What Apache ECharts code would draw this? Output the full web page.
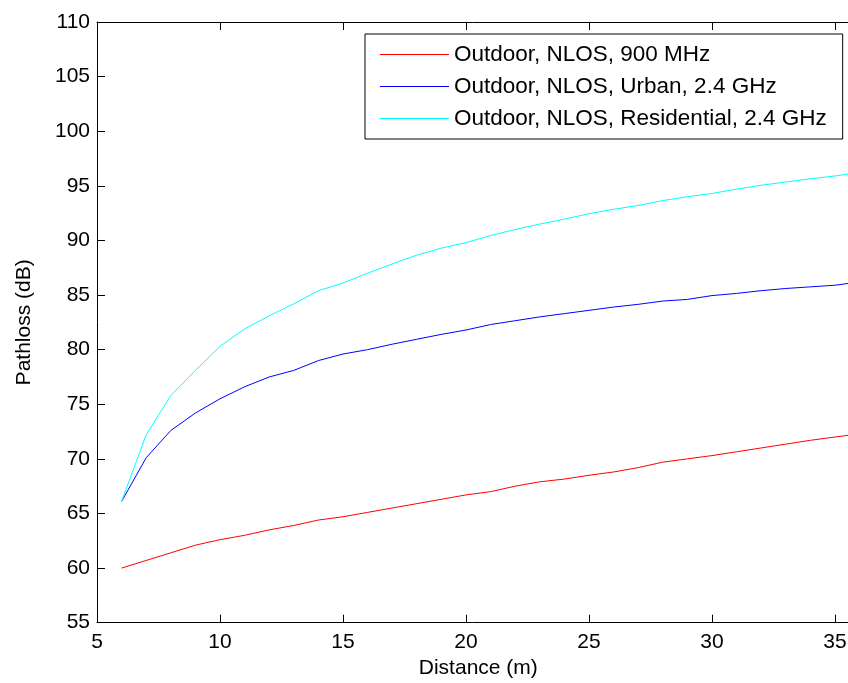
<!DOCTYPE html>
<html>
<head>
<meta charset="utf-8">
<title>Pathloss vs Distance</title>
<script src="https://cdn.jsdelivr.net/npm/echarts@6/dist/echarts.min.js"></script>
<style>
    html, body { margin: 0; padding: 0; background: #fff; }
    #chart_Pathloss_Main { width: 848px; height: 683px; }
</style>
</head>
<body>
<div id="chart_Pathloss_Main"></div>
<script>
// distance (m)
var distance = [6, 7, 8, 9, 10, 11, 12, 13, 14, 15, 16, 17, 18, 19, 20, 21,
    22, 23, 24, 25, 26, 27, 28, 29, 30, 31, 32, 33, 34, 35, 36];

// pathloss (dB)
var nlos900 = [60.0, 60.7, 61.4, 62.1, 62.6, 63.0, 63.5, 63.9, 64.4, 64.7, 65.1,
    65.5, 65.9, 66.3, 66.7, 67.0, 67.5, 67.9, 68.15, 68.5, 68.8, 69.2, 69.7,
    70.0, 70.3, 70.65, 71.0, 71.35, 71.7, 72.0, 72.3];
var nlosUrban24 = [66.1, 70.1, 72.6, 74.2, 75.5, 76.6, 77.5, 78.1, 79.0, 79.6, 80.0,
    80.5, 80.95, 81.4, 81.8, 82.3, 82.65, 83.0, 83.3, 83.6, 83.9, 84.15, 84.45,
    84.6, 84.95, 85.15, 85.4, 85.6, 85.75, 85.9, 86.2];
var nlosResidential24 = [66.1, 72.2, 75.8, 78.1, 80.3, 81.9, 83.1, 84.2, 85.4, 86.1, 87.0,
    87.85, 88.65, 89.3, 89.8, 90.45, 91.0, 91.5, 91.95, 92.45, 92.85, 93.2, 93.65,
    94.0, 94.3, 94.7, 95.05, 95.35, 95.65, 95.9, 96.25];

var seriesNames = ['Outdoor, NLOS, 900 MHz', 'Outdoor, NLOS, Urban, 2.4 GHz', 'Outdoor, NLOS, Residential, 2.4 GHz'];

var FONT = '"Liberation Sans", Arial, Helvetica, sans-serif';

function pairs(ys) {
    var data = [];
    for (var i = 0; i < distance.length; i++) {
        data.push([distance[i], ys[i]]);
    }
    return data;
}

function mkSeries(name, ys, color) {
    return {
        name: name,
        type: 'line',
        symbol: 'none',
        showSymbol: false,
        animation: false,
        data: pairs(ys),
        lineStyle: { color: color, width: 1 },
        itemStyle: { color: color }
    };
}

var chart_Pathloss_Main = echarts.init(document.getElementById('chart_Pathloss_Main'));

var option = {
    animation: false,
    backgroundColor: '#ffffff',
    grid: {
        left: 97,
        top: 22,
        width: 762.6,
        height: 600.7,
        containLabel: false,
        outerBoundsMode: 'none'
    },
    legend: {
        orient: 'vertical',
        left: 365,
        top: 34,
        padding: [9, 16, 9, 15],
        icon: 'rect',
        itemWidth: 69,
        itemHeight: 1,
        itemGap: 9,
        backgroundColor: '#ffffff',
        borderColor: '#000000',
        borderWidth: 1,
        borderRadius: 0,
        textStyle: { color: '#000', fontSize: 22.5, fontFamily: FONT },
        data: seriesNames
    },
    xAxis: [{
        type: 'value',
        min: 5,
        max: 36,
        interval: 5,
        name: 'Distance (m)',
        nameLocation: 'middle',
        nameGap: 33,
        nameTextStyle: { color: '#000', fontSize: 21, fontFamily: FONT },
        axisLine: { show: true, lineStyle: { color: '#000', width: 1 } },
        axisTick: { show: true, inside: true, length: 8, lineStyle: { color: '#000' } },
        axisLabel: { color: '#000', fontSize: 21, fontFamily: FONT, margin: 9, showMaxLabel: false },
        splitLine: { show: false }
    }, {
        type: 'value',
        position: 'top',
        min: 5,
        max: 36,
        interval: 5,
        axisLine: { show: true, lineStyle: { color: '#000', width: 1 } },
        axisTick: { show: true, inside: true, length: 8, lineStyle: { color: '#000' } },
        axisLabel: { show: false },
        splitLine: { show: false }
    }],
    yAxis: {
        type: 'value',
        min: 55,
        max: 110,
        interval: 5,
        name: 'Pathloss (dB)',
        nameLocation: 'middle',
        nameGap: 62,
        nameRotate: 90,
        nameTextStyle: { color: '#000', fontSize: 21, fontFamily: FONT },
        axisLine: { show: true, lineStyle: { color: '#000', width: 1 } },
        axisTick: { show: true, inside: true, length: 8, lineStyle: { color: '#000' } },
        axisLabel: { color: '#000', fontSize: 21, fontFamily: FONT, margin: 7 },
        splitLine: { show: false }
    },
    series: [
        mkSeries(seriesNames[0], nlos900, '#ff0000'),
        mkSeries(seriesNames[1], nlosUrban24, '#0000ff'),
        mkSeries(seriesNames[2], nlosResidential24, '#00ffff')
    ]
};

chart_Pathloss_Main.setOption(option);
</script>
</body>
</html>
